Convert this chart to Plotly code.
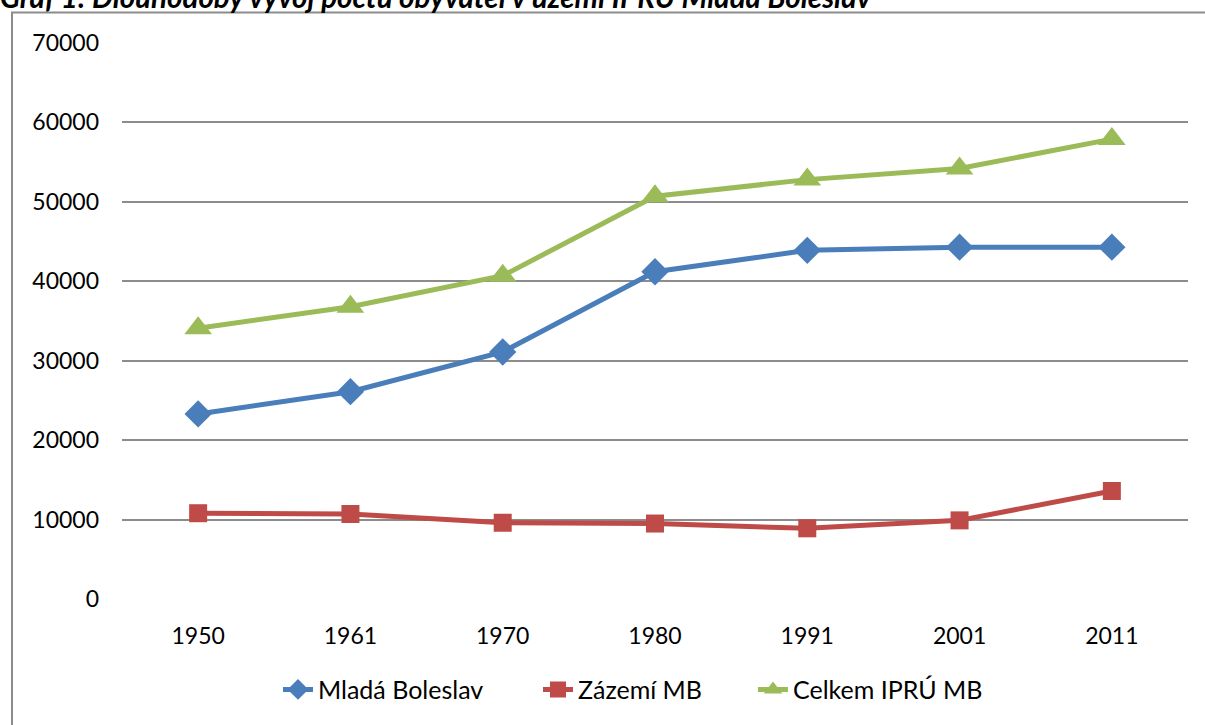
import plotly.graph_objects as go

years = ["1950", "1961", "1970", "1980", "1991", "2001", "2011"]
mlada_boleslav = [23300, 26100, 31100, 41200, 43900, 44300, 44300]
zazemi_mb = [10800, 10700, 9600, 9500, 8900, 9900, 13600]
celkem_ipru = [34100, 36800, 40700, 50700, 52800, 54200, 57900]

series_names = ["Mladá Boleslav", "Zázemí MB", "Celkem IPRÚ MB"]
series_values = [mlada_boleslav, zazemi_mb, celkem_ipru]
colors = ["#4A7EBB", "#BE4B48", "#9BBB59"]
symbols = ["diamond", "square", "triangle-up"]
sizes = [21, 18, 24]
legend_ids = ["legend", "legend2", "legend3"]
legend_text_px = [318, 578, 793]

y_ticks = [0, 10000, 20000, 30000, 40000, 50000, 60000, 70000]
title_text = "Graf 1: Dlouhodobý vývoj počtu obyvatel v území IPRÚ Mladá Boleslav"

FONT = "Lato"

fig = go.Figure()
for name, vals, c, s, sz, lg in zip(series_names, series_values, colors, symbols, sizes, legend_ids):
    fig.add_trace(go.Scatter(
        x=years, y=vals, name=name, mode="lines+markers",
        line=dict(color=c, width=5),
        marker=dict(symbol=s, size=sz, color=c, line=dict(width=0)),
        legend=lg,
    ))

L, R, T, B = 122, 17, 43, 124
W, H = 1205, 725
pw, ph = W - L - R, H - T - B

def px_x(p):
    return (p - L) / pw

def px_y(p):
    return (H - B - p) / ph

legend_common = dict(
    orientation="h", xanchor="left", y=px_y(692), yanchor="middle",
    font=dict(family=FONT, size=25, color="#000000"),
    bgcolor="rgba(0,0,0,0)", borderwidth=0,
)
legends = {}
for lg, tx in zip(legend_ids, legend_text_px):
    legends[lg] = dict(legend_common, x=px_x(tx - 40))

fig.update_layout(
    width=W, height=H,
    margin=dict(l=L, r=R, t=T, b=B, pad=0),
    paper_bgcolor="white", plot_bgcolor="white",
    font=dict(family=FONT, size=23, color="#000000"),
    showlegend=True,
    xaxis=dict(
        type="category", range=[-0.5, 6.5], showgrid=False,
        showline=False, zeroline=False, ticks="",
        ticklabelstandoff=21,
        tickfont=dict(family=FONT, size=23, color="#000000"),
    ),
    yaxis=dict(
        range=[0, 70000], tickvals=y_ticks, ticktext=[str(v) for v in y_ticks],
        showgrid=True, gridcolor="#8C8C8C", gridwidth=2,
        zeroline=False, showline=False, ticks="",
        ticklabelstandoff=22,
        tickfont=dict(family=FONT, size=23, color="#000000"),
    ),
    shapes=[
        dict(type="rect", xref="paper", yref="paper",
             x0=px_x(12), x1=px_x(1215), y0=px_y(740), y1=px_y(12.5),
             line=dict(color="#8C8C8C", width=2), fillcolor="rgba(0,0,0,0)",
             layer="below"),
    ],
    annotations=[
        dict(text=title_text, xref="paper", yref="paper",
             x=px_x(-2), xanchor="left", y=px_y(-3.5), yanchor="middle",
             showarrow=False,
             font=dict(family=FONT, size=29.5, color="#000000",
                       weight="bold", style="italic")),
    ],
    **legends,
)

fig.write_html("out.html",
               config={"displayModeBar": False},
               post_script="document.body.style.margin='0';document.body.style.overflow='hidden';")
